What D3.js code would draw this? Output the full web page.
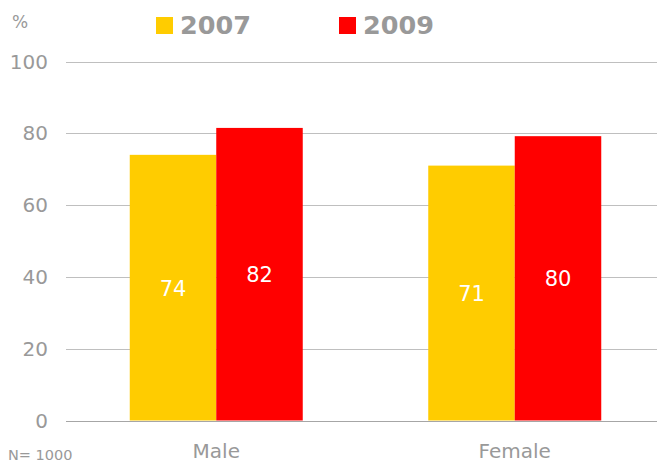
<!DOCTYPE html>
<html>
<head>
<meta charset="utf-8">
<script src="https://cdn.jsdelivr.net/npm/d3@7"></script>
<style>
  body { margin:0; background:#fff; }
  svg { display:block; font-family: Verdana, "DejaVu Sans", sans-serif; }
</style>
</head>
<body>
<script>
const width = 658;
const height = 463;

const categories = ['Male', 'Female'];
const years = ['2007', '2009'];
const values2007 = [74, 71];
const values2009 = [81.5, 79.2];
const labels2007 = ['74', '71'];
const labels2009 = ['82', '80'];
const yTicks = [0, 20, 40, 60, 80, 100];
const colors = ['#FFCC00', '#FF0000'];

const gridLeft = 66, gridRight = 657;
const y0 = 420.5, y100 = 61.5;

const rows = categories.map((c, i) => ({
  cat: c,
  vals: [values2007[i], values2009[i]],
  labs: [labels2007[i], labels2009[i]]
}));

const svg = d3.select('body').append('svg')
  .attr('width', width)
  .attr('height', height);

const y = d3.scaleLinear().domain([0, 100]).range([y0, y100]);
const x = d3.scaleBand().domain(categories).range([67, 664]).paddingInner(0).paddingOuter(0);
const xInner = d3.scaleBand().domain(years).range([0, 173]);

// gridlines
svg.append('g').selectAll('line').data(yTicks).enter().append('line')
  .attr('x1', gridLeft).attr('x2', gridRight)
  .attr('y1', d => Math.round(y(d)) + 0.5).attr('y2', d => Math.round(y(d)) + 0.5)
  .attr('stroke', d => d === 0 ? '#a6a6a6' : '#bfbfbf')
  .attr('stroke-width', 1);

// y tick labels
svg.append('g').selectAll('text').data(yTicks).enter().append('text')
  .attr('x', 48).attr('y', d => y(d) + 7)
  .attr('text-anchor', 'end')
  .attr('font-size', 20)
  .attr('fill', '#999')
  .text(d => d);

svg.append('text').attr('x', 12).attr('y', 28)
  .attr('font-size', 17).attr('fill', '#999').text('%');

// bars
const groups = svg.selectAll('g.grp').data(rows).enter().append('g')
  .attr('class', 'grp')
  .attr('transform', d => `translate(${x(d.cat) + x.bandwidth() / 2 - 86.5},0)`);

groups.selectAll('rect').data(d => d.vals.map((v, i) => ({ v, yr: years[i], i })))
  .enter().append('rect')
  .attr('x', d => xInner(d.yr))
  .attr('width', xInner.bandwidth())
  .attr('y', d => y(d.v))
  .attr('height', d => y(0) - y(d.v))
  .attr('fill', d => colors[d.i]);

groups.selectAll('text').data(d => d.vals.map((v, i) => ({ v, yr: years[i], lab: d.labs[i] })))
  .enter().append('text')
  .attr('x', d => xInner(d.yr) + xInner.bandwidth() / 2)
  .attr('y', d => (y(d.v) + y(0)) / 2 + 8)
  .attr('text-anchor', 'middle')
  .attr('font-size', 21)
  .attr('fill', '#fff')
  .text(d => d.lab);

// x category labels
svg.append('g').selectAll('text').data(categories).enter().append('text')
  .attr('x', d => x(d) + x.bandwidth() / 2)
  .attr('y', 458)
  .attr('text-anchor', 'middle')
  .attr('font-size', 20)
  .attr('fill', '#999')
  .text(d => d);

svg.append('text').attr('x', 8).attr('y', 460)
  .attr('font-size', 14.5).attr('fill', '#999').text('N= 1000');

// legend
const legendX = [156, 339];
const legend = svg.append('g').selectAll('g').data(years).enter().append('g')
  .attr('transform', (d, i) => `translate(${legendX[i]},0)`);
legend.append('rect').attr('x', 0).attr('y', 17).attr('width', 17).attr('height', 17)
  .attr('fill', (d, i) => colors[i]);
legend.append('text').attr('x', 24).attr('y', 34)
  .attr('font-size', 25.5).attr('font-weight', 'bold').attr('fill', '#999')
  .text(d => d);
</script>
</body>
</html>
